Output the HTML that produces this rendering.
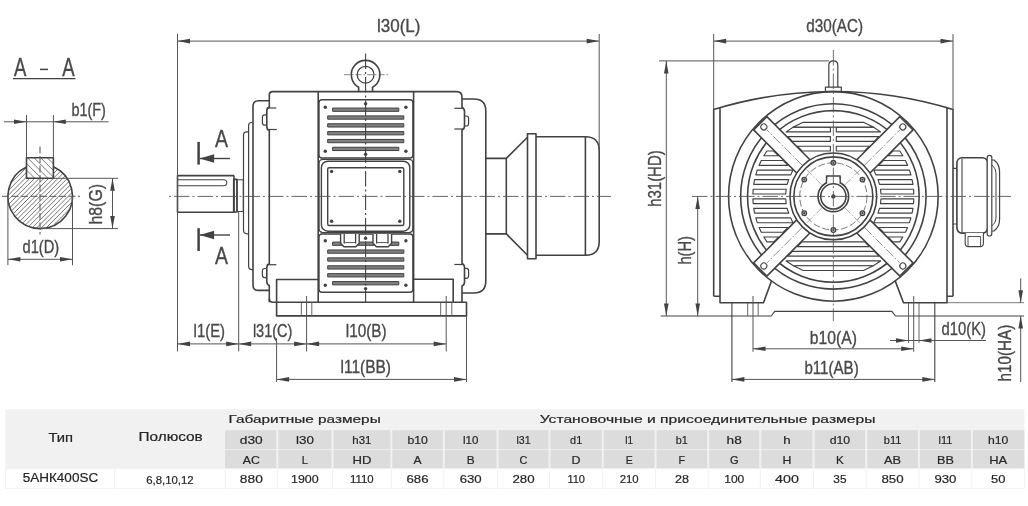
<!DOCTYPE html>
<html><head><meta charset="utf-8"><title>5AHK400SC</title>
<style>
html,body{margin:0;padding:0;background:#fff;}
body{width:1028px;height:506px;overflow:hidden;font-family:"Liberation Sans",sans-serif;}
svg{display:block;position:absolute;left:0;top:0;}
svg text{font-family:"Liberation Sans",sans-serif;}
</style></head><body>
<svg width="1028" height="506" viewBox="0 0 1028 506">
<defs><filter id="soft" x="-2%" y="-2%" width="104%" height="104%"><feGaussianBlur stdDeviation="0.45"/></filter></defs>
<rect x="0" y="0" width="1028" height="506" fill="#ffffff"/>
<g filter="url(#soft)" stroke-linecap="butt" stroke-linejoin="round">
<text x="13.90" y="75.60" font-size="26.5" fill="#484848" stroke="#484848" stroke-width="0.35" text-anchor="start" textLength="12.4" lengthAdjust="spacingAndGlyphs">A</text>
<text x="62.30" y="75.60" font-size="26.5" fill="#484848" stroke="#484848" stroke-width="0.35" text-anchor="start" textLength="12.4" lengthAdjust="spacingAndGlyphs">A</text>
<line x1="40.00" y1="69.40" x2="48.00" y2="69.40" stroke="#424242" stroke-width="1.5"/>
<line x1="13.00" y1="78.60" x2="75.50" y2="78.60" stroke="#424242" stroke-width="1.3"/>
<defs>
<clipPath id="cpShaft"><circle cx="40.2" cy="196.3" r="32.3"/></clipPath>
<clipPath id="cpKey"><rect x="26.5" y="157.7" width="26.9" height="20.60"/></clipPath>
</defs>
<g clip-path="url(#cpShaft)">
<line x1="-143.50" y1="300.00" x2="56.50" y2="100.00" stroke="#666" stroke-width="0.9"/>
<line x1="-138.80" y1="300.00" x2="61.20" y2="100.00" stroke="#666" stroke-width="0.9"/>
<line x1="-134.10" y1="300.00" x2="65.90" y2="100.00" stroke="#666" stroke-width="0.9"/>
<line x1="-129.40" y1="300.00" x2="70.60" y2="100.00" stroke="#666" stroke-width="0.9"/>
<line x1="-124.70" y1="300.00" x2="75.30" y2="100.00" stroke="#666" stroke-width="0.9"/>
<line x1="-120.00" y1="300.00" x2="80.00" y2="100.00" stroke="#666" stroke-width="0.9"/>
<line x1="-115.30" y1="300.00" x2="84.70" y2="100.00" stroke="#666" stroke-width="0.9"/>
<line x1="-110.60" y1="300.00" x2="89.40" y2="100.00" stroke="#666" stroke-width="0.9"/>
<line x1="-105.90" y1="300.00" x2="94.10" y2="100.00" stroke="#666" stroke-width="0.9"/>
<line x1="-101.20" y1="300.00" x2="98.80" y2="100.00" stroke="#666" stroke-width="0.9"/>
<line x1="-96.50" y1="300.00" x2="103.50" y2="100.00" stroke="#666" stroke-width="0.9"/>
<line x1="-91.80" y1="300.00" x2="108.20" y2="100.00" stroke="#666" stroke-width="0.9"/>
<line x1="-87.10" y1="300.00" x2="112.90" y2="100.00" stroke="#666" stroke-width="0.9"/>
<line x1="-82.40" y1="300.00" x2="117.60" y2="100.00" stroke="#666" stroke-width="0.9"/>
<line x1="-77.70" y1="300.00" x2="122.30" y2="100.00" stroke="#666" stroke-width="0.9"/>
<line x1="-73.00" y1="300.00" x2="127.00" y2="100.00" stroke="#666" stroke-width="0.9"/>
<line x1="-68.30" y1="300.00" x2="131.70" y2="100.00" stroke="#666" stroke-width="0.9"/>
<line x1="-63.60" y1="300.00" x2="136.40" y2="100.00" stroke="#666" stroke-width="0.9"/>
<line x1="-58.90" y1="300.00" x2="141.10" y2="100.00" stroke="#666" stroke-width="0.9"/>
<line x1="-54.20" y1="300.00" x2="145.80" y2="100.00" stroke="#666" stroke-width="0.9"/>
<line x1="-49.50" y1="300.00" x2="150.50" y2="100.00" stroke="#666" stroke-width="0.9"/>
<line x1="-44.80" y1="300.00" x2="155.20" y2="100.00" stroke="#666" stroke-width="0.9"/>
<line x1="-40.10" y1="300.00" x2="159.90" y2="100.00" stroke="#666" stroke-width="0.9"/>
<line x1="-35.40" y1="300.00" x2="164.60" y2="100.00" stroke="#666" stroke-width="0.9"/>
<line x1="-30.70" y1="300.00" x2="169.30" y2="100.00" stroke="#666" stroke-width="0.9"/>
<line x1="-26.00" y1="300.00" x2="174.00" y2="100.00" stroke="#666" stroke-width="0.9"/>
<line x1="-21.30" y1="300.00" x2="178.70" y2="100.00" stroke="#666" stroke-width="0.9"/>
<line x1="-16.60" y1="300.00" x2="183.40" y2="100.00" stroke="#666" stroke-width="0.9"/>
<line x1="-11.90" y1="300.00" x2="188.10" y2="100.00" stroke="#666" stroke-width="0.9"/>
<line x1="-7.20" y1="300.00" x2="192.80" y2="100.00" stroke="#666" stroke-width="0.9"/>
<line x1="-2.50" y1="300.00" x2="197.50" y2="100.00" stroke="#666" stroke-width="0.9"/>
<line x1="2.20" y1="300.00" x2="202.20" y2="100.00" stroke="#666" stroke-width="0.9"/>
<line x1="6.90" y1="300.00" x2="206.90" y2="100.00" stroke="#666" stroke-width="0.9"/>
<line x1="11.60" y1="300.00" x2="211.60" y2="100.00" stroke="#666" stroke-width="0.9"/>
<line x1="16.30" y1="300.00" x2="216.30" y2="100.00" stroke="#666" stroke-width="0.9"/>
<line x1="21.00" y1="300.00" x2="221.00" y2="100.00" stroke="#666" stroke-width="0.9"/>
<line x1="25.70" y1="300.00" x2="225.70" y2="100.00" stroke="#666" stroke-width="0.9"/>
<line x1="30.40" y1="300.00" x2="230.40" y2="100.00" stroke="#666" stroke-width="0.9"/>
<line x1="35.10" y1="300.00" x2="235.10" y2="100.00" stroke="#666" stroke-width="0.9"/>
<line x1="39.80" y1="300.00" x2="239.80" y2="100.00" stroke="#666" stroke-width="0.9"/>
<line x1="44.50" y1="300.00" x2="244.50" y2="100.00" stroke="#666" stroke-width="0.9"/>
<line x1="49.20" y1="300.00" x2="249.20" y2="100.00" stroke="#666" stroke-width="0.9"/>
<line x1="53.90" y1="300.00" x2="253.90" y2="100.00" stroke="#666" stroke-width="0.9"/>
<line x1="58.60" y1="300.00" x2="258.60" y2="100.00" stroke="#666" stroke-width="0.9"/>
<line x1="63.30" y1="300.00" x2="263.30" y2="100.00" stroke="#666" stroke-width="0.9"/>
<line x1="68.00" y1="300.00" x2="268.00" y2="100.00" stroke="#666" stroke-width="0.9"/>
<line x1="72.70" y1="300.00" x2="272.70" y2="100.00" stroke="#666" stroke-width="0.9"/>
<line x1="77.40" y1="300.00" x2="277.40" y2="100.00" stroke="#666" stroke-width="0.9"/>
<line x1="82.10" y1="300.00" x2="282.10" y2="100.00" stroke="#666" stroke-width="0.9"/>
<line x1="86.80" y1="300.00" x2="286.80" y2="100.00" stroke="#666" stroke-width="0.9"/>
<line x1="91.50" y1="300.00" x2="291.50" y2="100.00" stroke="#666" stroke-width="0.9"/>
<line x1="96.20" y1="300.00" x2="296.20" y2="100.00" stroke="#666" stroke-width="0.9"/>
</g>
<rect x="26.5" y="157.7" width="26.9" height="20.60" fill="#fff"/>
<g clip-path="url(#cpKey)">
<line x1="-116.10" y1="100.00" x2="83.90" y2="300.00" stroke="#666" stroke-width="0.9"/>
<line x1="-109.50" y1="100.00" x2="90.50" y2="300.00" stroke="#666" stroke-width="0.9"/>
<line x1="-102.90" y1="100.00" x2="97.10" y2="300.00" stroke="#666" stroke-width="0.9"/>
<line x1="-96.30" y1="100.00" x2="103.70" y2="300.00" stroke="#666" stroke-width="0.9"/>
<line x1="-89.70" y1="100.00" x2="110.30" y2="300.00" stroke="#666" stroke-width="0.9"/>
<line x1="-83.10" y1="100.00" x2="116.90" y2="300.00" stroke="#666" stroke-width="0.9"/>
<line x1="-76.50" y1="100.00" x2="123.50" y2="300.00" stroke="#666" stroke-width="0.9"/>
<line x1="-69.90" y1="100.00" x2="130.10" y2="300.00" stroke="#666" stroke-width="0.9"/>
<line x1="-63.30" y1="100.00" x2="136.70" y2="300.00" stroke="#666" stroke-width="0.9"/>
<line x1="-56.70" y1="100.00" x2="143.30" y2="300.00" stroke="#666" stroke-width="0.9"/>
<line x1="-50.10" y1="100.00" x2="149.90" y2="300.00" stroke="#666" stroke-width="0.9"/>
<line x1="-43.50" y1="100.00" x2="156.50" y2="300.00" stroke="#666" stroke-width="0.9"/>
<line x1="-36.90" y1="100.00" x2="163.10" y2="300.00" stroke="#666" stroke-width="0.9"/>
<line x1="-30.30" y1="100.00" x2="169.70" y2="300.00" stroke="#666" stroke-width="0.9"/>
<line x1="-23.70" y1="100.00" x2="176.30" y2="300.00" stroke="#666" stroke-width="0.9"/>
<line x1="-17.10" y1="100.00" x2="182.90" y2="300.00" stroke="#666" stroke-width="0.9"/>
<line x1="-10.50" y1="100.00" x2="189.50" y2="300.00" stroke="#666" stroke-width="0.9"/>
<line x1="-3.90" y1="100.00" x2="196.10" y2="300.00" stroke="#666" stroke-width="0.9"/>
<line x1="2.70" y1="100.00" x2="202.70" y2="300.00" stroke="#666" stroke-width="0.9"/>
</g>
<path d="M53.4,166.82 A32.3,32.3 0 1 1 26.5,167.05" fill="none" stroke="#424242" stroke-width="1.6" />
<rect x="26.50" y="157.70" width="26.90" height="20.60" rx="0" ry="0" fill="none" stroke="#424242" stroke-width="1.6"/>
<line x1="2.00" y1="196.30" x2="80.00" y2="196.30" stroke="#555555" stroke-width="1.0" stroke-dasharray="7 2.5"/>
<line x1="40.00" y1="146.50" x2="40.00" y2="234.50" stroke="#555555" stroke-width="1.0" stroke-dasharray="7 2.5"/>
<line x1="4.00" y1="121.80" x2="108.50" y2="121.80" stroke="#555555" stroke-width="1.0"/>
<line x1="26.50" y1="115.00" x2="26.50" y2="157.70" stroke="#555555" stroke-width="1.0"/>
<line x1="53.40" y1="115.00" x2="53.40" y2="157.70" stroke="#555555" stroke-width="1.0"/>
<polygon points="26.50,121.80 14.00,124.10 14.00,119.50" fill="#424242"/>
<polygon points="53.40,121.80 65.90,119.50 65.90,124.10" fill="#424242"/>
<text x="71.40" y="115.80" font-size="19" fill="#484848" stroke="#484848" stroke-width="0.35" text-anchor="start" textLength="34.5" lengthAdjust="spacingAndGlyphs">b1(F)</text>
<line x1="53.40" y1="178.30" x2="118.00" y2="178.30" stroke="#555555" stroke-width="1.0"/>
<line x1="40.00" y1="228.60" x2="118.00" y2="228.60" stroke="#555555" stroke-width="1.0"/>
<line x1="112.50" y1="178.30" x2="112.50" y2="228.60" stroke="#555555" stroke-width="1.0"/>
<polygon points="112.50,178.30 114.80,190.80 110.20,190.80" fill="#424242"/>
<polygon points="112.50,228.60 110.20,216.10 114.80,216.10" fill="#424242"/>
<text x="102.00" y="224.50" font-size="19" fill="#484848" stroke="#484848" stroke-width="0.35" text-anchor="start" textLength="40.5" lengthAdjust="spacingAndGlyphs" transform="rotate(-90 102.00 224.50)">h8(G)</text>
<line x1="7.90" y1="196.30" x2="7.90" y2="265.20" stroke="#555555" stroke-width="1.0"/>
<line x1="72.50" y1="196.30" x2="72.50" y2="265.20" stroke="#555555" stroke-width="1.0"/>
<line x1="7.90" y1="259.30" x2="72.50" y2="259.30" stroke="#555555" stroke-width="1.0"/>
<polygon points="7.90,259.30 20.40,257.00 20.40,261.60" fill="#424242"/>
<polygon points="72.50,259.30 60.00,261.60 60.00,257.00" fill="#424242"/>
<text x="22.50" y="252.80" font-size="19" fill="#484848" stroke="#484848" stroke-width="0.35" text-anchor="start" textLength="36.7" lengthAdjust="spacingAndGlyphs">d1(D)</text>
<path d="M234,175.6 H177.5 V212.2 H234" fill="none" stroke="#424242" stroke-width="1.6" />
<path d="M177.5,179.8 H223.5 Q226.8,179.8 226.8,182.8 Q226.8,185.7 223.5,185.7 H177.5" fill="none" stroke="#424242" stroke-width="1.1" />
<rect x="233.70" y="179.40" width="3.30" height="32.60" rx="0" ry="0" fill="none" stroke="#424242" stroke-width="1.6"/>
<rect x="237.00" y="179.80" width="6.30" height="31.70" rx="0" ry="0" fill="none" stroke="#424242" stroke-width="1.1"/>
<line x1="234.00" y1="175.60" x2="234.00" y2="212.20" stroke="#424242" stroke-width="1.6"/>
<path d="M248.5,131.8 H246.5 Q243.5,131.8 243.5,135 V230 Q243.5,233.8 247,233.8 H248.5" fill="none" stroke="#424242" stroke-width="1.2" />
<path d="M253,122.5 H251.5 Q248.6,122.5 248.6,125.5 V266 Q248.6,269.6 252,269.6 H253" fill="none" stroke="#424242" stroke-width="1.2" />
<path d="M269.3,100.8 H258.5 Q253,100.8 253,106.3 V284.9 Q253,290.4 258.5,290.4 H269.3" fill="none" stroke="#424242" stroke-width="1.6" />
<path d="M269.3,302.3 V285.5 Q266.8,284.5 266.8,281.5 V267.7 Q266.8,264.7 269.3,263.7 V130.5 Q266.8,129.5 266.8,126.5 V111 Q266.8,108 269.3,107 V95 Q269.3,91.6 272.8,91.6 H456.5 Q462,91.6 462,97 V107.4 Q464.5,108.4 464.5,111.4 V126 Q464.5,129 462,130 V263.5 Q464.5,264.5 464.5,267.5 V282 Q464.5,285 462,286 V302.3" fill="none" stroke="#424242" stroke-width="1.6" />
<line x1="266.80" y1="108.00" x2="276.30" y2="108.00" stroke="#424242" stroke-width="1.2"/>
<line x1="266.80" y1="129.50" x2="276.80" y2="129.50" stroke="#424242" stroke-width="1.2"/>
<path d="M266.8,114.8 H264.8 Q262.4,114.8 262.4,117.3 V122.7 Q262.4,125.2 264.8,125.2 H266.8" fill="none" stroke="#424242" stroke-width="1.2" />
<line x1="266.80" y1="264.70" x2="276.30" y2="264.70" stroke="#424242" stroke-width="1.2"/>
<path d="M266.8,268.5 H264.8 Q262.4,268.5 262.4,271 V275 Q262.4,277.6 264.8,277.6 H266.8" fill="none" stroke="#424242" stroke-width="1.2" />
<line x1="454.30" y1="108.30" x2="464.00" y2="108.30" stroke="#424242" stroke-width="1.2"/>
<line x1="454.30" y1="129.00" x2="464.00" y2="129.00" stroke="#424242" stroke-width="1.2"/>
<path d="M464.5,116 H466.3 Q468.6,116 468.6,118.5 V123.5 Q468.6,126 466.3,126 H464.5" fill="none" stroke="#424242" stroke-width="1.2" />
<line x1="454.30" y1="264.50" x2="464.00" y2="264.50" stroke="#424242" stroke-width="1.2"/>
<path d="M464.5,268.4 H466.3 Q468.6,268.4 468.6,270.9 V275.8 Q468.6,278.3 466.3,278.3 H464.5" fill="none" stroke="#424242" stroke-width="1.2" />
<path d="M462,99 H473.8 Q485.8,99 485.8,111 V281 Q485.8,293 473.8,293 H462" fill="none" stroke="#424242" stroke-width="1.6" />
<line x1="318.20" y1="91.60" x2="318.20" y2="302.30" stroke="#424242" stroke-width="1.6"/>
<line x1="413.60" y1="91.60" x2="413.60" y2="302.30" stroke="#424242" stroke-width="1.6"/>
<rect x="319.00" y="99.80" width="93.90" height="58.20" rx="3" ry="3" fill="none" stroke="#424242" stroke-width="1.4"/>
<rect x="319.00" y="159.40" width="93.90" height="73.20" rx="4" ry="4" fill="none" stroke="#424242" stroke-width="1.4"/>
<rect x="321.40" y="161.20" width="88.40" height="70.00" rx="6.5" ry="6.5" fill="none" stroke="#424242" stroke-width="1.4"/>
<rect x="327.70" y="167.80" width="76.10" height="57.70" rx="1.5" ry="1.5" fill="none" stroke="#424242" stroke-width="1.4"/>
<rect x="319.00" y="234.00" width="93.90" height="58.30" rx="3" ry="3" fill="none" stroke="#424242" stroke-width="1.4"/>
<circle cx="331.60" cy="171.40" r="1.7" fill="#424242"/>
<circle cx="399.80" cy="171.40" r="1.7" fill="#424242"/>
<circle cx="331.60" cy="221.20" r="1.7" fill="#424242"/>
<circle cx="399.80" cy="221.20" r="1.7" fill="#424242"/>
<rect x="332.6" y="108.05" width="66.19999999999999" height="3.3" fill="#808080" stroke="#424242" stroke-width="1.0"/>
<rect x="327.7" y="115.89" width="76.10000000000002" height="3.3" fill="#808080" stroke="#424242" stroke-width="1.0"/>
<rect x="327.7" y="123.73" width="76.10000000000002" height="3.3" fill="#808080" stroke="#424242" stroke-width="1.0"/>
<rect x="327.7" y="131.57" width="76.10000000000002" height="3.3" fill="#808080" stroke="#424242" stroke-width="1.0"/>
<rect x="327.7" y="139.41" width="76.10000000000002" height="3.3" fill="#808080" stroke="#424242" stroke-width="1.0"/>
<rect x="332.6" y="147.25" width="66.19999999999999" height="3.3" fill="#808080" stroke="#424242" stroke-width="1.0"/>
<rect x="332.6" y="242.05" width="66.19999999999999" height="3.3" fill="#808080" stroke="#424242" stroke-width="1.0"/>
<rect x="327.7" y="249.95" width="76.10000000000002" height="3.3" fill="#808080" stroke="#424242" stroke-width="1.0"/>
<rect x="327.7" y="257.85" width="76.10000000000002" height="3.3" fill="#808080" stroke="#424242" stroke-width="1.0"/>
<rect x="327.7" y="265.75" width="76.10000000000002" height="3.3" fill="#808080" stroke="#424242" stroke-width="1.0"/>
<rect x="327.7" y="273.65" width="76.10000000000002" height="3.3" fill="#808080" stroke="#424242" stroke-width="1.0"/>
<rect x="332.6" y="281.55" width="66.19999999999999" height="3.3" fill="#808080" stroke="#424242" stroke-width="1.0"/>
<circle cx="325.30" cy="107.20" r="1.7" fill="#424242"/>
<circle cx="405.90" cy="107.20" r="1.7" fill="#424242"/>
<circle cx="325.30" cy="151.30" r="1.7" fill="#424242"/>
<circle cx="405.90" cy="151.30" r="1.7" fill="#424242"/>
<circle cx="365.60" cy="103.80" r="1.7" fill="#424242"/>
<circle cx="365.60" cy="154.30" r="1.7" fill="#424242"/>
<circle cx="325.30" cy="240.80" r="1.7" fill="#424242"/>
<circle cx="405.90" cy="240.80" r="1.7" fill="#424242"/>
<circle cx="325.30" cy="285.30" r="1.7" fill="#424242"/>
<circle cx="405.90" cy="285.30" r="1.7" fill="#424242"/>
<circle cx="365.60" cy="238.20" r="1.7" fill="#424242"/>
<circle cx="365.60" cy="288.60" r="1.7" fill="#424242"/>
<path d="M340.6,234 V243.2 L344.0,246.8 H355.8 L359.20000000000005,243.2 V234" fill="#fff" stroke="#424242" stroke-width="1.4" />
<line x1="344.20" y1="234.00" x2="344.20" y2="243.50" stroke="#424242" stroke-width="1.3"/>
<line x1="355.60" y1="234.00" x2="355.60" y2="243.50" stroke="#424242" stroke-width="1.3"/>
<line x1="344.20" y1="242.60" x2="355.60" y2="242.60" stroke="#555555" stroke-width="1.0"/>
<path d="M373.0,234 V243.2 L376.4,246.8 H388.2 L391.6,243.2 V234" fill="#fff" stroke="#424242" stroke-width="1.4" />
<line x1="376.60" y1="234.00" x2="376.60" y2="243.50" stroke="#424242" stroke-width="1.3"/>
<line x1="388.00" y1="234.00" x2="388.00" y2="243.50" stroke="#424242" stroke-width="1.3"/>
<line x1="376.60" y1="242.60" x2="388.00" y2="242.60" stroke="#555555" stroke-width="1.0"/>
<path d="M358.65,91.6 V87.2 A14.3,14.3 0 1 1 372.55,87.2 V91.6" fill="none" stroke="#424242" stroke-width="1.6" />
<circle cx="365.60" cy="74.70" r="8.40" fill="none" stroke="#424242" stroke-width="1.3"/>
<line x1="344.00" y1="74.70" x2="388.00" y2="74.70" stroke="#555555" stroke-width="0.7" stroke-dasharray="6 2 1.5 2"/>
<line x1="365.60" y1="53.50" x2="365.60" y2="302.00" stroke="#424242" stroke-width="1.1" stroke-dasharray="15.5 3 2 3"/>
<path d="M276.6,302.3 V279.5 H318.2" fill="none" stroke="#424242" stroke-width="1.6" />
<path d="M413.6,279.3 H453.2 V302.3" fill="none" stroke="#424242" stroke-width="1.6" />
<path d="M269.3,298.5 Q269.3,302.3 273,302.3 H466.5 V315.9 H276.6 V302.3" fill="none" stroke="#424242" stroke-width="1.6" />
<line x1="301.30" y1="302.30" x2="301.30" y2="315.90" stroke="#555555" stroke-width="0.9"/>
<line x1="311.80" y1="302.30" x2="311.80" y2="315.90" stroke="#555555" stroke-width="0.9"/>
<line x1="440.70" y1="302.30" x2="440.70" y2="315.90" stroke="#555555" stroke-width="0.9"/>
<line x1="451.80" y1="302.30" x2="451.80" y2="315.90" stroke="#555555" stroke-width="0.9"/>
<path d="M485.8,158.4 H506.3 L527.5,137.3 M485.8,233.9 H506.3 L527.5,255.2" fill="none" stroke="#424242" stroke-width="1.6" />
<line x1="506.30" y1="158.40" x2="506.30" y2="233.90" stroke="#424242" stroke-width="1.6"/>
<rect x="527.50" y="133.70" width="8.50" height="125.10" rx="0" ry="0" fill="none" stroke="#424242" stroke-width="1.6"/>
<path d="M536,136.7 H585.4 Q599.2,136.7 599.2,150.5 V241.4 Q599.2,255.2 585.4,255.2 H536" fill="none" stroke="#424242" stroke-width="1.6" />
<line x1="585.40" y1="136.70" x2="585.40" y2="255.20" stroke="#424242" stroke-width="1.6"/>
<line x1="169.00" y1="196.40" x2="611.00" y2="196.40" stroke="#555555" stroke-width="0.9" stroke-dasharray="2 3 15.5 3"/>
<line x1="198.60" y1="141.90" x2="198.60" y2="164.60" stroke="#424242" stroke-width="2.5"/>
<line x1="200.00" y1="158.50" x2="230.00" y2="158.50" stroke="#424242" stroke-width="1.4"/>
<polygon points="199.60,158.50 214.10,154.30 214.10,162.70" fill="#424242"/>
<text x="215.00" y="146.50" font-size="23" fill="#484848" stroke="#484848" stroke-width="0.35" text-anchor="start" textLength="13.0" lengthAdjust="spacingAndGlyphs">A</text>
<line x1="198.60" y1="228.20" x2="198.60" y2="251.00" stroke="#424242" stroke-width="2.5"/>
<line x1="200.00" y1="235.00" x2="230.00" y2="235.00" stroke="#424242" stroke-width="1.4"/>
<polygon points="199.60,235.00 214.10,230.80 214.10,239.20" fill="#424242"/>
<text x="215.00" y="264.40" font-size="23" fill="#484848" stroke="#484848" stroke-width="0.35" text-anchor="start" textLength="13.0" lengthAdjust="spacingAndGlyphs">A</text>
<line x1="177.50" y1="33.80" x2="177.50" y2="351.40" stroke="#555555" stroke-width="1.0"/>
<line x1="599.20" y1="34.00" x2="599.20" y2="150.00" stroke="#555555" stroke-width="1.0"/>
<line x1="177.50" y1="41.10" x2="599.20" y2="41.10" stroke="#555555" stroke-width="1.0"/>
<polygon points="177.50,41.10 190.00,38.80 190.00,43.40" fill="#424242"/>
<polygon points="599.20,41.10 586.70,43.40 586.70,38.80" fill="#424242"/>
<text x="377.00" y="31.50" font-size="19" fill="#484848" stroke="#484848" stroke-width="0.35" text-anchor="start" textLength="43.5" lengthAdjust="spacingAndGlyphs">l30(L)</text>
<line x1="238.70" y1="212.00" x2="238.70" y2="351.40" stroke="#555555" stroke-width="1.0"/>
<line x1="306.60" y1="296.00" x2="306.60" y2="351.40" stroke="#555555" stroke-width="1.0"/>
<line x1="446.20" y1="296.00" x2="446.20" y2="351.40" stroke="#555555" stroke-width="1.0"/>
<line x1="177.50" y1="343.90" x2="446.20" y2="343.90" stroke="#555555" stroke-width="1.0"/>
<polygon points="177.50,343.90 190.00,341.60 190.00,346.20" fill="#424242"/>
<polygon points="238.70,343.90 226.20,346.20 226.20,341.60" fill="#424242"/>
<polygon points="238.70,343.90 251.20,341.60 251.20,346.20" fill="#424242"/>
<polygon points="306.60,343.90 294.10,346.20 294.10,341.60" fill="#424242"/>
<polygon points="306.60,343.90 319.10,341.60 319.10,346.20" fill="#424242"/>
<polygon points="446.20,343.90 433.70,346.20 433.70,341.60" fill="#424242"/>
<text x="193.60" y="336.50" font-size="19" fill="#484848" stroke="#484848" stroke-width="0.35" text-anchor="start" textLength="31.5" lengthAdjust="spacingAndGlyphs">l1(E)</text>
<text x="252.90" y="336.50" font-size="19" fill="#484848" stroke="#484848" stroke-width="0.35" text-anchor="start" textLength="39.5" lengthAdjust="spacingAndGlyphs">l31(C)</text>
<text x="345.80" y="336.50" font-size="19" fill="#484848" stroke="#484848" stroke-width="0.35" text-anchor="start" textLength="40.8" lengthAdjust="spacingAndGlyphs">l10(B)</text>
<line x1="276.60" y1="338.00" x2="276.60" y2="382.00" stroke="#555555" stroke-width="1.0"/>
<line x1="466.50" y1="316.00" x2="466.50" y2="382.00" stroke="#555555" stroke-width="1.0"/>
<line x1="276.60" y1="379.40" x2="466.50" y2="379.40" stroke="#555555" stroke-width="1.0"/>
<polygon points="276.60,379.40 289.10,377.10 289.10,381.70" fill="#424242"/>
<polygon points="466.50,379.40 454.00,381.70 454.00,377.10" fill="#424242"/>
<text x="340.50" y="373.30" font-size="19" fill="#484848" stroke="#484848" stroke-width="0.35" text-anchor="start" textLength="50.5" lengthAdjust="spacingAndGlyphs">l11(BB)</text>
<path d="M713.7,296.2 V109.5 A406.7,406.7 0 0 1 953,109.5 V296.2" fill="none" stroke="#424242" stroke-width="1.6" />
<path d="M720,108 V302.7 H763.5 L771.6,280.6 M713.7,296.2 H720" fill="none" stroke="#424242" stroke-width="1.6" />
<path d="M947,108 V302.7 H903.5 L895.1,280.6 M953,296.2 H947" fill="none" stroke="#424242" stroke-width="1.6" />
<path d="M828.8,87.2 V65.3 Q828.8,60.9 833.3,60.9 Q837.8,60.9 837.8,65.3 V87.2" fill="none" stroke="#424242" stroke-width="1.2" />
<rect x="825.40" y="87.20" width="15.90" height="4.10" rx="0" ry="0" fill="#fff" stroke="#424242" stroke-width="1.2"/>
<circle cx="833.35" cy="196.40" r="104.80" fill="none" stroke="#424242" stroke-width="1.6"/>
<circle cx="833.35" cy="196.40" r="92.70" fill="none" stroke="#424242" stroke-width="1.6"/>
<circle cx="833.35" cy="196.40" r="85.80" fill="none" stroke="#424242" stroke-width="1.6"/>
<polygon points="752.89,194.00 785.71,194.00 786.19,189.22 753.17,189.22" fill="#fff" stroke="#424242" stroke-width="1.15" stroke-linejoin="round"/>
<polygon points="880.99,194.00 913.81,194.00 913.53,189.22 880.51,189.22" fill="#fff" stroke="#424242" stroke-width="1.15" stroke-linejoin="round"/>
<polygon points="753.74,184.44 787.17,184.44 788.68,179.66 754.61,179.66" fill="#fff" stroke="#424242" stroke-width="1.15" stroke-linejoin="round"/>
<polygon points="879.53,184.44 912.96,184.44 912.09,179.66 878.02,179.66" fill="#fff" stroke="#424242" stroke-width="1.15" stroke-linejoin="round"/>
<polygon points="755.78,174.88 790.78,174.88 792.91,170.10 757.27,170.10" fill="#fff" stroke="#424242" stroke-width="1.15" stroke-linejoin="round"/>
<polygon points="875.92,174.88 910.92,174.88 909.43,170.10 873.79,170.10" fill="#fff" stroke="#424242" stroke-width="1.15" stroke-linejoin="round"/>
<polygon points="759.09,165.32 788.13,165.32 783.35,160.54 761.28,160.54" fill="#fff" stroke="#424242" stroke-width="1.15" stroke-linejoin="round"/>
<polygon points="878.57,165.32 907.61,165.32 905.42,160.54 883.35,160.54" fill="#fff" stroke="#424242" stroke-width="1.15" stroke-linejoin="round"/>
<polygon points="763.86,155.76 778.57,155.76 773.79,150.98 766.89,150.98" fill="#fff" stroke="#424242" stroke-width="1.15" stroke-linejoin="round"/>
<polygon points="888.13,155.76 902.84,155.76 899.81,150.98 892.91,150.98" fill="#fff" stroke="#424242" stroke-width="1.15" stroke-linejoin="round"/>
<polygon points="802.07,150.98 830.40,150.98 830.40,146.20 797.29,146.20" fill="#fff" stroke="#424242" stroke-width="1.15" stroke-linejoin="round"/>
<polygon points="836.30,150.98 864.63,150.98 869.41,146.20 836.30,146.20" fill="#fff" stroke="#424242" stroke-width="1.15" stroke-linejoin="round"/>
<polygon points="792.51,141.42 830.40,141.42 830.40,136.64 787.73,136.64" fill="#fff" stroke="#424242" stroke-width="1.15" stroke-linejoin="round"/>
<polygon points="836.30,141.42 874.19,141.42 878.97,136.64 836.30,136.64" fill="#fff" stroke="#424242" stroke-width="1.15" stroke-linejoin="round"/>
<polygon points="786.08,131.86 830.40,131.86 830.40,127.08 793.42,127.08" fill="#fff" stroke="#424242" stroke-width="1.15" stroke-linejoin="round"/>
<polygon points="836.30,131.86 880.62,131.86 873.28,127.08 836.30,127.08" fill="#fff" stroke="#424242" stroke-width="1.15" stroke-linejoin="round"/>
<polygon points="793.42,127.08 873.28,127.08 863.50,122.30 803.20,122.30" fill="#fff" stroke="#424242" stroke-width="1.15" stroke-linejoin="round"/>
<polygon points="752.89,198.80 785.71,198.80 786.19,203.58 753.17,203.58" fill="#fff" stroke="#424242" stroke-width="1.15" stroke-linejoin="round"/>
<polygon points="880.99,198.80 913.81,198.80 913.53,203.58 880.51,203.58" fill="#fff" stroke="#424242" stroke-width="1.15" stroke-linejoin="round"/>
<polygon points="753.74,208.36 787.17,208.36 788.68,213.14 754.61,213.14" fill="#fff" stroke="#424242" stroke-width="1.15" stroke-linejoin="round"/>
<polygon points="879.53,208.36 912.96,208.36 912.09,213.14 878.02,213.14" fill="#fff" stroke="#424242" stroke-width="1.15" stroke-linejoin="round"/>
<polygon points="755.78,217.92 790.78,217.92 792.91,222.70 757.27,222.70" fill="#fff" stroke="#424242" stroke-width="1.15" stroke-linejoin="round"/>
<polygon points="875.92,217.92 910.92,217.92 909.43,222.70 873.79,222.70" fill="#fff" stroke="#424242" stroke-width="1.15" stroke-linejoin="round"/>
<polygon points="759.09,227.48 788.13,227.48 783.35,232.26 761.28,232.26" fill="#fff" stroke="#424242" stroke-width="1.15" stroke-linejoin="round"/>
<polygon points="878.57,227.48 907.61,227.48 905.42,232.26 883.35,232.26" fill="#fff" stroke="#424242" stroke-width="1.15" stroke-linejoin="round"/>
<polygon points="763.86,237.04 778.57,237.04 773.79,241.82 766.89,241.82" fill="#fff" stroke="#424242" stroke-width="1.15" stroke-linejoin="round"/>
<polygon points="888.13,237.04 902.84,237.04 899.81,241.82 892.91,241.82" fill="#fff" stroke="#424242" stroke-width="1.15" stroke-linejoin="round"/>
<polygon points="802.07,241.82 864.63,241.82 869.41,246.60 797.29,246.60" fill="#fff" stroke="#424242" stroke-width="1.15" stroke-linejoin="round"/>
<polygon points="792.51,251.38 874.19,251.38 878.97,256.16 787.73,256.16" fill="#fff" stroke="#424242" stroke-width="1.15" stroke-linejoin="round"/>
<polygon points="786.08,260.94 880.62,260.94 873.28,265.72 793.42,265.72" fill="#fff" stroke="#424242" stroke-width="1.15" stroke-linejoin="round"/>
<polygon points="793.42,265.72 873.28,265.72 863.50,270.50 803.20,270.50" fill="#fff" stroke="#424242" stroke-width="1.15" stroke-linejoin="round"/>
<g transform="translate(833.35 196.4) rotate(45)">
<path d="M40,-9.35 H103.4 V9.35 H40 Z" fill="#fff" stroke="none"/>
<path d="M40,-9.35 H103.4 V9.35 H40" fill="none" stroke="#424242" stroke-width="1.6"/>
<line x1="44" y1="0" x2="94" y2="0" stroke="#666" stroke-width="0.7" stroke-dasharray="10 2 1.5 2"/>
<circle cx="98.3" cy="0" r="3" fill="#fff" stroke="#424242" stroke-width="1.1"/>
</g>
<g transform="translate(833.35 196.4) rotate(135)">
<path d="M40,-9.35 H103.4 V9.35 H40 Z" fill="#fff" stroke="none"/>
<path d="M40,-9.35 H103.4 V9.35 H40" fill="none" stroke="#424242" stroke-width="1.6"/>
<line x1="44" y1="0" x2="94" y2="0" stroke="#666" stroke-width="0.7" stroke-dasharray="10 2 1.5 2"/>
<circle cx="98.3" cy="0" r="3" fill="#fff" stroke="#424242" stroke-width="1.1"/>
</g>
<g transform="translate(833.35 196.4) rotate(225)">
<path d="M40,-9.35 H103.4 V9.35 H40 Z" fill="#fff" stroke="none"/>
<path d="M40,-9.35 H103.4 V9.35 H40" fill="none" stroke="#424242" stroke-width="1.6"/>
<line x1="44" y1="0" x2="94" y2="0" stroke="#666" stroke-width="0.7" stroke-dasharray="10 2 1.5 2"/>
<circle cx="98.3" cy="0" r="3" fill="#fff" stroke="#424242" stroke-width="1.1"/>
</g>
<g transform="translate(833.35 196.4) rotate(315)">
<path d="M40,-9.35 H103.4 V9.35 H40 Z" fill="#fff" stroke="none"/>
<path d="M40,-9.35 H103.4 V9.35 H40" fill="none" stroke="#424242" stroke-width="1.6"/>
<line x1="44" y1="0" x2="94" y2="0" stroke="#666" stroke-width="0.7" stroke-dasharray="10 2 1.5 2"/>
<circle cx="98.3" cy="0" r="3" fill="#fff" stroke="#424242" stroke-width="1.1"/>
</g>
<circle cx="833.35" cy="196.40" r="43.40" fill="#fff" stroke="#424242" stroke-width="1.6"/>
<circle cx="833.35" cy="196.40" r="39.50" fill="none" stroke="#424242" stroke-width="1.6"/>
<circle cx="833.35" cy="196.40" r="33.60" fill="none" stroke="#424242" stroke-width="0.7" stroke-dasharray="7 2.5"/>
<line x1="806.48" y1="169.53" x2="860.22" y2="223.27" stroke="#777" stroke-width="0.6" stroke-dasharray="8 2 1.5 2"/>
<line x1="860.22" y1="169.53" x2="806.48" y2="223.27" stroke="#777" stroke-width="0.6" stroke-dasharray="8 2 1.5 2"/>
<circle cx="833.35" cy="162.80" r="2.30" fill="#ddd" stroke="#424242" stroke-width="1.3"/>
<circle cx="833.35" cy="162.80" r="1.1" fill="#424242"/>
<circle cx="862.45" cy="179.60" r="2.30" fill="#ddd" stroke="#424242" stroke-width="1.3"/>
<circle cx="862.45" cy="179.60" r="1.1" fill="#424242"/>
<circle cx="862.45" cy="213.20" r="2.30" fill="#ddd" stroke="#424242" stroke-width="1.3"/>
<circle cx="862.45" cy="213.20" r="1.1" fill="#424242"/>
<circle cx="833.35" cy="230.00" r="2.30" fill="#ddd" stroke="#424242" stroke-width="1.3"/>
<circle cx="833.35" cy="230.00" r="1.1" fill="#424242"/>
<circle cx="804.25" cy="213.20" r="2.30" fill="#ddd" stroke="#424242" stroke-width="1.3"/>
<circle cx="804.25" cy="213.20" r="1.1" fill="#424242"/>
<circle cx="804.25" cy="179.60" r="2.30" fill="#ddd" stroke="#424242" stroke-width="1.3"/>
<circle cx="804.25" cy="179.60" r="1.1" fill="#424242"/>
<circle cx="833.35" cy="196.40" r="15.30" fill="#fff" stroke="#424242" stroke-width="1.6"/>
<path d="M826.6,183.2 V176 H840.1 V183.2" fill="#fff" stroke="#424242" stroke-width="1.6" />
<rect x="827.4" y="179" width="11.9" height="4.3" fill="#fff"/>
<circle cx="833.35" cy="196.40" r="12.60" fill="#fff" stroke="#424242" stroke-width="1.6"/>
<circle cx="833.35" cy="196.40" r="2.2" fill="#424242"/>
<path d="M660.8,316 H771.2 L774.8,311.4 H891.9 L895.5,316 H1024" fill="none" stroke="#424242" stroke-width="1.1" />
<line x1="731.90" y1="302.70" x2="731.90" y2="382.00" stroke="#424242" stroke-width="1.1"/>
<line x1="934.80" y1="302.70" x2="934.80" y2="382.00" stroke="#424242" stroke-width="1.1"/>
<line x1="747.70" y1="302.70" x2="747.70" y2="316.00" stroke="#555555" stroke-width="0.9"/>
<line x1="758.20" y1="302.70" x2="758.20" y2="316.00" stroke="#555555" stroke-width="0.9"/>
<line x1="753.00" y1="296.00" x2="753.00" y2="351.80" stroke="#555555" stroke-width="1.0"/>
<line x1="908.50" y1="302.70" x2="908.50" y2="343.00" stroke="#555555" stroke-width="0.9"/>
<line x1="919.00" y1="302.70" x2="919.00" y2="343.00" stroke="#555555" stroke-width="0.9"/>
<line x1="913.70" y1="296.00" x2="913.70" y2="351.80" stroke="#555555" stroke-width="1.0"/>
<line x1="947.00" y1="302.70" x2="1024.00" y2="302.70" stroke="#555555" stroke-width="0.8"/>
<path d="M957,168.4 H953 M957,224 H953" fill="none" stroke="#424242" stroke-width="1.1" />
<rect x="956.90" y="157.80" width="30.70" height="75.30" rx="5" ry="5" fill="#fff" stroke="#424242" stroke-width="1.6"/>
<line x1="962.00" y1="158.50" x2="962.00" y2="232.50" stroke="#424242" stroke-width="1.1"/>
<path d="M991.7,160 H994 Q999.6,164 999.6,172 V219 Q999.6,227 994,231 H991.7" fill="#fff" stroke="#424242" stroke-width="1.2" />
<path d="M991.7,165 Q996,168 996,174 V217 Q996,223 991.7,226" fill="none" stroke="#424242" stroke-width="1.0" />
<rect x="987.20" y="155.40" width="4.60" height="80.60" rx="2.2" ry="2.2" fill="#fff" stroke="#424242" stroke-width="1.2"/>
<path d="M965.2,233.1 V243.5 Q965.2,246.6 968.5,246.6 H980 Q983.4,246.6 983.4,243.5 V233.1" fill="#fff" stroke="#424242" stroke-width="1.1" />
<path d="M968,236.5 H980.6 M968,236.5 V246 M980.6,236.5 V246" fill="none" stroke="#424242" stroke-width="0.9" />
<line x1="833.35" y1="50.00" x2="833.35" y2="321.00" stroke="#555555" stroke-width="0.85" stroke-dasharray="15.5 3 2 3"/>
<line x1="692.00" y1="196.40" x2="1011.00" y2="196.40" stroke="#555555" stroke-width="0.9" stroke-dasharray="15.5 3 2 3"/>
<line x1="713.70" y1="34.00" x2="713.70" y2="109.00" stroke="#555555" stroke-width="1.0"/>
<line x1="953.00" y1="34.00" x2="953.00" y2="109.00" stroke="#555555" stroke-width="1.0"/>
<line x1="713.70" y1="41.10" x2="953.00" y2="41.10" stroke="#555555" stroke-width="1.0"/>
<polygon points="713.70,41.10 726.20,38.80 726.20,43.40" fill="#424242"/>
<polygon points="953.00,41.10 940.50,43.40 940.50,38.80" fill="#424242"/>
<text x="806.30" y="32.20" font-size="19" fill="#484848" stroke="#484848" stroke-width="0.35" text-anchor="start" textLength="56.7" lengthAdjust="spacingAndGlyphs">d30(AC)</text>
<line x1="659.00" y1="60.90" x2="829.00" y2="60.90" stroke="#555555" stroke-width="1.0"/>
<line x1="666.30" y1="60.90" x2="666.30" y2="316.00" stroke="#555555" stroke-width="1.0"/>
<polygon points="666.30,60.90 668.60,73.40 664.00,73.40" fill="#424242"/>
<polygon points="666.30,316.00 664.00,303.50 668.60,303.50" fill="#424242"/>
<text x="660.70" y="206.80" font-size="19" fill="#484848" stroke="#484848" stroke-width="0.35" text-anchor="start" textLength="56.5" lengthAdjust="spacingAndGlyphs" transform="rotate(-90 660.70 206.80)">h31(HD)</text>
<line x1="697.70" y1="196.40" x2="697.70" y2="316.00" stroke="#555555" stroke-width="1.0"/>
<polygon points="697.70,196.40 700.00,208.90 695.40,208.90" fill="#424242"/>
<polygon points="697.70,316.00 695.40,303.50 700.00,303.50" fill="#424242"/>
<text x="690.60" y="264.60" font-size="19" fill="#484848" stroke="#484848" stroke-width="0.35" text-anchor="start" textLength="28.6" lengthAdjust="spacingAndGlyphs" transform="rotate(-90 690.60 264.60)">h(H)</text>
<line x1="753.00" y1="348.80" x2="913.70" y2="348.80" stroke="#555555" stroke-width="1.0"/>
<polygon points="753.00,348.80 765.50,346.50 765.50,351.10" fill="#424242"/>
<polygon points="913.70,348.80 901.20,351.10 901.20,346.50" fill="#424242"/>
<text x="809.80" y="343.50" font-size="19" fill="#484848" stroke="#484848" stroke-width="0.35" text-anchor="start" textLength="47.1" lengthAdjust="spacingAndGlyphs">b10(A)</text>
<line x1="731.90" y1="379.40" x2="934.80" y2="379.40" stroke="#555555" stroke-width="1.0"/>
<polygon points="731.90,379.40 744.40,377.10 744.40,381.70" fill="#424242"/>
<polygon points="934.80,379.40 922.30,381.70 922.30,377.10" fill="#424242"/>
<text x="804.40" y="374.30" font-size="19" fill="#484848" stroke="#484848" stroke-width="0.35" text-anchor="start" textLength="54.3" lengthAdjust="spacingAndGlyphs">b11(AB)</text>
<line x1="890.00" y1="340.50" x2="986.00" y2="340.50" stroke="#555555" stroke-width="1.0"/>
<polygon points="908.50,340.50 896.00,342.80 896.00,338.20" fill="#424242"/>
<polygon points="919.00,340.50 931.50,338.20 931.50,342.80" fill="#424242"/>
<text x="941.60" y="335.40" font-size="19" fill="#484848" stroke="#484848" stroke-width="0.35" text-anchor="start" textLength="44.4" lengthAdjust="spacingAndGlyphs">d10(K)</text>
<line x1="1020.70" y1="278.40" x2="1020.70" y2="302.70" stroke="#555555" stroke-width="1.0"/>
<polygon points="1020.70,302.70 1018.40,290.20 1023.00,290.20" fill="#424242"/>
<line x1="1020.70" y1="316.00" x2="1020.70" y2="382.00" stroke="#555555" stroke-width="1.0"/>
<polygon points="1020.70,316.00 1023.00,328.50 1018.40,328.50" fill="#424242"/>
<text x="1011.40" y="381.40" font-size="19" fill="#484848" stroke="#484848" stroke-width="0.35" text-anchor="start" textLength="56.7" lengthAdjust="spacingAndGlyphs" transform="rotate(-90 1011.40 381.40)">h10(HA)</text>
</g>
<g filter="url(#soft)">
<rect x="5.5" y="409.3" width="1018.9" height="59.5" fill="#f1f1f1"/>
<rect x="225.1" y="430.2" width="51.2" height="18.8" fill="#dcdcdc"/>
<rect x="225.1" y="449.8" width="51.2" height="18.9" fill="#dcdcdc"/>
<rect x="278.3" y="430.2" width="53.2" height="18.8" fill="#dcdcdc"/>
<rect x="278.3" y="449.8" width="53.2" height="18.9" fill="#dcdcdc"/>
<rect x="333.5" y="430.2" width="56.8" height="18.8" fill="#dcdcdc"/>
<rect x="333.5" y="449.8" width="56.8" height="18.9" fill="#dcdcdc"/>
<rect x="392.3" y="430.2" width="50.5" height="18.8" fill="#dcdcdc"/>
<rect x="392.3" y="449.8" width="50.5" height="18.9" fill="#dcdcdc"/>
<rect x="444.8" y="430.2" width="51.8" height="18.8" fill="#dcdcdc"/>
<rect x="444.8" y="449.8" width="51.8" height="18.9" fill="#dcdcdc"/>
<rect x="498.6" y="430.2" width="49.9" height="18.8" fill="#dcdcdc"/>
<rect x="498.6" y="449.8" width="49.9" height="18.9" fill="#dcdcdc"/>
<rect x="550.5" y="430.2" width="51.3" height="18.8" fill="#dcdcdc"/>
<rect x="550.5" y="449.8" width="51.3" height="18.9" fill="#dcdcdc"/>
<rect x="603.8" y="430.2" width="50.8" height="18.8" fill="#dcdcdc"/>
<rect x="603.8" y="449.8" width="50.8" height="18.9" fill="#dcdcdc"/>
<rect x="656.6" y="430.2" width="50.6" height="18.8" fill="#dcdcdc"/>
<rect x="656.6" y="449.8" width="50.6" height="18.9" fill="#dcdcdc"/>
<rect x="709.2" y="430.2" width="50.1" height="18.8" fill="#dcdcdc"/>
<rect x="709.2" y="449.8" width="50.1" height="18.9" fill="#dcdcdc"/>
<rect x="761.3" y="430.2" width="51.3" height="18.8" fill="#dcdcdc"/>
<rect x="761.3" y="449.8" width="51.3" height="18.9" fill="#dcdcdc"/>
<rect x="814.6" y="430.2" width="50.6" height="18.8" fill="#dcdcdc"/>
<rect x="814.6" y="449.8" width="50.6" height="18.9" fill="#dcdcdc"/>
<rect x="867.2" y="430.2" width="50.7" height="18.8" fill="#dcdcdc"/>
<rect x="867.2" y="449.8" width="50.7" height="18.9" fill="#dcdcdc"/>
<rect x="919.9" y="430.2" width="51.0" height="18.8" fill="#dcdcdc"/>
<rect x="919.9" y="449.8" width="51.0" height="18.9" fill="#dcdcdc"/>
<rect x="972.9" y="430.2" width="51.5" height="18.8" fill="#dcdcdc"/>
<rect x="972.9" y="449.8" width="51.5" height="18.9" fill="#dcdcdc"/>
<rect x="5.5" y="468.8" width="1018.9" height="19.6" fill="#ffffff" stroke="#f3f3f3" stroke-width="1"/>
<line x1="114.6" y1="469" x2="114.6" y2="488.3" stroke="#f1f1f1" stroke-width="1"/>
<line x1="225.2" y1="469" x2="225.2" y2="488.3" stroke="#f1f1f1" stroke-width="1"/>
<line x1="277.3" y1="469" x2="277.3" y2="488.3" stroke="#f1f1f1" stroke-width="1"/>
<line x1="332.5" y1="469" x2="332.5" y2="488.3" stroke="#f1f1f1" stroke-width="1"/>
<line x1="391.3" y1="469" x2="391.3" y2="488.3" stroke="#f1f1f1" stroke-width="1"/>
<line x1="443.8" y1="469" x2="443.8" y2="488.3" stroke="#f1f1f1" stroke-width="1"/>
<line x1="497.6" y1="469" x2="497.6" y2="488.3" stroke="#f1f1f1" stroke-width="1"/>
<line x1="549.5" y1="469" x2="549.5" y2="488.3" stroke="#f1f1f1" stroke-width="1"/>
<line x1="602.8" y1="469" x2="602.8" y2="488.3" stroke="#f1f1f1" stroke-width="1"/>
<line x1="655.6" y1="469" x2="655.6" y2="488.3" stroke="#f1f1f1" stroke-width="1"/>
<line x1="708.2" y1="469" x2="708.2" y2="488.3" stroke="#f1f1f1" stroke-width="1"/>
<line x1="760.3" y1="469" x2="760.3" y2="488.3" stroke="#f1f1f1" stroke-width="1"/>
<line x1="813.6" y1="469" x2="813.6" y2="488.3" stroke="#f1f1f1" stroke-width="1"/>
<line x1="866.2" y1="469" x2="866.2" y2="488.3" stroke="#f1f1f1" stroke-width="1"/>
<line x1="918.9" y1="469" x2="918.9" y2="488.3" stroke="#f1f1f1" stroke-width="1"/>
<line x1="971.9" y1="469" x2="971.9" y2="488.3" stroke="#f1f1f1" stroke-width="1"/>
<text x="48.4" y="441.8" font-size="12" fill="#262626" stroke="#262626" stroke-width="0.2" text-anchor="start" letter-spacing="0.0" textLength="24.6" lengthAdjust="spacingAndGlyphs">Тип</text>
<text x="138.5" y="441.2" font-size="12" fill="#262626" stroke="#262626" stroke-width="0.2" text-anchor="start" letter-spacing="0.0" textLength="64.2" lengthAdjust="spacingAndGlyphs">Полюсов</text>
<text x="228.5" y="422.7" font-size="11.4" fill="#262626" stroke="#262626" stroke-width="0.2" text-anchor="start" letter-spacing="0.0" textLength="152.2" lengthAdjust="spacingAndGlyphs">Габаритные размеры</text>
<text x="539.7" y="422.7" font-size="11.4" fill="#262626" stroke="#262626" stroke-width="0.2" text-anchor="start" letter-spacing="0.0" textLength="335.8" lengthAdjust="spacingAndGlyphs">Установочные и присоединительные размеры</text>
<text x="22.7" y="482.4" font-size="12.0" fill="#262626" stroke="#262626" stroke-width="0.2" text-anchor="start" letter-spacing="0.0" textLength="75.5" lengthAdjust="spacingAndGlyphs">5АНК400SC</text>
<text x="146.2" y="484.0" font-size="11.8" fill="#262626" stroke="#262626" stroke-width="0.2" text-anchor="start" letter-spacing="0.0" textLength="47.5" lengthAdjust="spacingAndGlyphs">6,8,10,12</text>
<text x="239.8" y="443.8" font-size="11.8" fill="#262626" stroke="#262626" stroke-width="0.2" text-anchor="start" letter-spacing="0.0" textLength="22.9" lengthAdjust="spacingAndGlyphs">d30</text>
<text x="242.8" y="463.8" font-size="11.8" fill="#262626" stroke="#262626" stroke-width="0.2" text-anchor="start" letter-spacing="0.0" textLength="17.0" lengthAdjust="spacingAndGlyphs">AC</text>
<text x="239.8" y="483.4" font-size="11.8" fill="#262626" stroke="#262626" stroke-width="0.2" text-anchor="start" letter-spacing="0.0" textLength="23.0" lengthAdjust="spacingAndGlyphs">880</text>
<text x="296.0" y="443.8" font-size="11.8" fill="#262626" stroke="#262626" stroke-width="0.2" text-anchor="start" letter-spacing="0.0" textLength="17.9" lengthAdjust="spacingAndGlyphs">l30</text>
<text x="301.8" y="463.8" font-size="11.8" fill="#262626" stroke="#262626" stroke-width="0.2" text-anchor="start" letter-spacing="0.0" textLength="6.2" lengthAdjust="spacingAndGlyphs">L</text>
<text x="291.0" y="483.4" font-size="11.8" fill="#262626" stroke="#262626" stroke-width="0.2" text-anchor="start" letter-spacing="0.0" textLength="27.7" lengthAdjust="spacingAndGlyphs">1900</text>
<text x="352.3" y="443.8" font-size="11.8" fill="#262626" stroke="#262626" stroke-width="0.2" text-anchor="start" letter-spacing="0.0" textLength="19.1" lengthAdjust="spacingAndGlyphs">h31</text>
<text x="352.5" y="463.8" font-size="11.8" fill="#262626" stroke="#262626" stroke-width="0.2" text-anchor="start" letter-spacing="0.0" textLength="18.9" lengthAdjust="spacingAndGlyphs">HD</text>
<text x="350.0" y="483.4" font-size="11.8" fill="#262626" stroke="#262626" stroke-width="0.2" text-anchor="start" letter-spacing="0.0" textLength="23.7" lengthAdjust="spacingAndGlyphs">1110</text>
<text x="407.4" y="443.8" font-size="11.8" fill="#262626" stroke="#262626" stroke-width="0.2" text-anchor="start" letter-spacing="0.0" textLength="20.4" lengthAdjust="spacingAndGlyphs">b10</text>
<text x="413.5" y="463.8" font-size="11.8" fill="#262626" stroke="#262626" stroke-width="0.2" text-anchor="start" letter-spacing="0.0" textLength="8.1" lengthAdjust="spacingAndGlyphs">A</text>
<text x="406.5" y="483.4" font-size="11.8" fill="#262626" stroke="#262626" stroke-width="0.2" text-anchor="start" letter-spacing="0.0" textLength="22.1" lengthAdjust="spacingAndGlyphs">686</text>
<text x="463.0" y="443.8" font-size="11.8" fill="#262626" stroke="#262626" stroke-width="0.2" text-anchor="start" letter-spacing="0.0" textLength="15.4" lengthAdjust="spacingAndGlyphs">l10</text>
<text x="466.8" y="463.8" font-size="11.8" fill="#262626" stroke="#262626" stroke-width="0.2" text-anchor="start" letter-spacing="0.0" textLength="7.9" lengthAdjust="spacingAndGlyphs">B</text>
<text x="459.7" y="483.4" font-size="11.8" fill="#262626" stroke="#262626" stroke-width="0.2" text-anchor="start" letter-spacing="0.0" textLength="22.0" lengthAdjust="spacingAndGlyphs">630</text>
<text x="516.4" y="443.8" font-size="11.8" fill="#262626" stroke="#262626" stroke-width="0.2" text-anchor="start" letter-spacing="0.0" textLength="14.2" lengthAdjust="spacingAndGlyphs">l31</text>
<text x="519.6" y="463.8" font-size="11.8" fill="#262626" stroke="#262626" stroke-width="0.2" text-anchor="start" letter-spacing="0.0" textLength="7.9" lengthAdjust="spacingAndGlyphs">C</text>
<text x="512.4" y="483.4" font-size="11.8" fill="#262626" stroke="#262626" stroke-width="0.2" text-anchor="start" letter-spacing="0.0" textLength="22.2" lengthAdjust="spacingAndGlyphs">280</text>
<text x="570.1" y="443.8" font-size="11.8" fill="#262626" stroke="#262626" stroke-width="0.2" text-anchor="start" letter-spacing="0.0" textLength="12.1" lengthAdjust="spacingAndGlyphs">d1</text>
<text x="571.6" y="463.8" font-size="11.8" fill="#262626" stroke="#262626" stroke-width="0.2" text-anchor="start" letter-spacing="0.0" textLength="9.0" lengthAdjust="spacingAndGlyphs">D</text>
<text x="567.4" y="483.4" font-size="11.8" fill="#262626" stroke="#262626" stroke-width="0.2" text-anchor="start" letter-spacing="0.0" textLength="17.6" lengthAdjust="spacingAndGlyphs">110</text>
<text x="625.3" y="443.8" font-size="11.8" fill="#262626" stroke="#262626" stroke-width="0.2" text-anchor="start" letter-spacing="0.0" textLength="7.7" lengthAdjust="spacingAndGlyphs">l1</text>
<text x="625.7" y="463.8" font-size="11.8" fill="#262626" stroke="#262626" stroke-width="0.2" text-anchor="start" letter-spacing="0.0" textLength="7.0" lengthAdjust="spacingAndGlyphs">E</text>
<text x="619.7" y="483.4" font-size="11.8" fill="#262626" stroke="#262626" stroke-width="0.2" text-anchor="start" letter-spacing="0.0" textLength="19.0" lengthAdjust="spacingAndGlyphs">210</text>
<text x="675.8" y="443.8" font-size="11.8" fill="#262626" stroke="#262626" stroke-width="0.2" text-anchor="start" letter-spacing="0.0" textLength="12.1" lengthAdjust="spacingAndGlyphs">b1</text>
<text x="678.6" y="463.8" font-size="11.8" fill="#262626" stroke="#262626" stroke-width="0.2" text-anchor="start" letter-spacing="0.0" textLength="6.6" lengthAdjust="spacingAndGlyphs">F</text>
<text x="674.9" y="483.4" font-size="11.8" fill="#262626" stroke="#262626" stroke-width="0.2" text-anchor="start" letter-spacing="0.0" textLength="14.0" lengthAdjust="spacingAndGlyphs">28</text>
<text x="726.6" y="443.8" font-size="11.8" fill="#262626" stroke="#262626" stroke-width="0.2" text-anchor="start" letter-spacing="0.0" textLength="15.2" lengthAdjust="spacingAndGlyphs">h8</text>
<text x="729.9" y="463.8" font-size="11.8" fill="#262626" stroke="#262626" stroke-width="0.2" text-anchor="start" letter-spacing="0.0" textLength="8.6" lengthAdjust="spacingAndGlyphs">G</text>
<text x="724.2" y="483.4" font-size="11.8" fill="#262626" stroke="#262626" stroke-width="0.2" text-anchor="start" letter-spacing="0.0" textLength="20.1" lengthAdjust="spacingAndGlyphs">100</text>
<text x="783.3" y="443.8" font-size="11.8" fill="#262626" stroke="#262626" stroke-width="0.2" text-anchor="start" letter-spacing="0.0" textLength="7.4" lengthAdjust="spacingAndGlyphs">h</text>
<text x="782.5" y="463.8" font-size="11.8" fill="#262626" stroke="#262626" stroke-width="0.2" text-anchor="start" letter-spacing="0.0" textLength="8.9" lengthAdjust="spacingAndGlyphs">H</text>
<text x="775.1" y="483.4" font-size="11.8" fill="#262626" stroke="#262626" stroke-width="0.2" text-anchor="start" letter-spacing="0.0" textLength="23.8" lengthAdjust="spacingAndGlyphs">400</text>
<text x="829.7" y="443.8" font-size="11.8" fill="#262626" stroke="#262626" stroke-width="0.2" text-anchor="start" letter-spacing="0.0" textLength="20.4" lengthAdjust="spacingAndGlyphs">d10</text>
<text x="836.0" y="463.8" font-size="11.8" fill="#262626" stroke="#262626" stroke-width="0.2" text-anchor="start" letter-spacing="0.0" textLength="7.8" lengthAdjust="spacingAndGlyphs">K</text>
<text x="833.3" y="483.4" font-size="11.8" fill="#262626" stroke="#262626" stroke-width="0.2" text-anchor="start" letter-spacing="0.0" textLength="13.2" lengthAdjust="spacingAndGlyphs">35</text>
<text x="883.8" y="443.8" font-size="11.8" fill="#262626" stroke="#262626" stroke-width="0.2" text-anchor="start" letter-spacing="0.0" textLength="17.6" lengthAdjust="spacingAndGlyphs">b11</text>
<text x="884.0" y="463.8" font-size="11.8" fill="#262626" stroke="#262626" stroke-width="0.2" text-anchor="start" letter-spacing="0.0" textLength="17.0" lengthAdjust="spacingAndGlyphs">AB</text>
<text x="881.4" y="483.4" font-size="11.8" fill="#262626" stroke="#262626" stroke-width="0.2" text-anchor="start" letter-spacing="0.0" textLength="22.2" lengthAdjust="spacingAndGlyphs">850</text>
<text x="938.5" y="443.8" font-size="11.8" fill="#262626" stroke="#262626" stroke-width="0.2" text-anchor="start" letter-spacing="0.0" textLength="13.9" lengthAdjust="spacingAndGlyphs">l11</text>
<text x="937.0" y="463.8" font-size="11.8" fill="#262626" stroke="#262626" stroke-width="0.2" text-anchor="start" letter-spacing="0.0" textLength="16.8" lengthAdjust="spacingAndGlyphs">BB</text>
<text x="934.4" y="483.4" font-size="11.8" fill="#262626" stroke="#262626" stroke-width="0.2" text-anchor="start" letter-spacing="0.0" textLength="22.0" lengthAdjust="spacingAndGlyphs">930</text>
<text x="988.0" y="443.8" font-size="11.8" fill="#262626" stroke="#262626" stroke-width="0.2" text-anchor="start" letter-spacing="0.0" textLength="20.3" lengthAdjust="spacingAndGlyphs">h10</text>
<text x="989.2" y="463.8" font-size="11.8" fill="#262626" stroke="#262626" stroke-width="0.2" text-anchor="start" letter-spacing="0.0" textLength="18.0" lengthAdjust="spacingAndGlyphs">HA</text>
<text x="991.0" y="483.4" font-size="11.8" fill="#262626" stroke="#262626" stroke-width="0.2" text-anchor="start" letter-spacing="0.0" textLength="14.4" lengthAdjust="spacingAndGlyphs">50</text>
</g>
</svg>
</body></html>
